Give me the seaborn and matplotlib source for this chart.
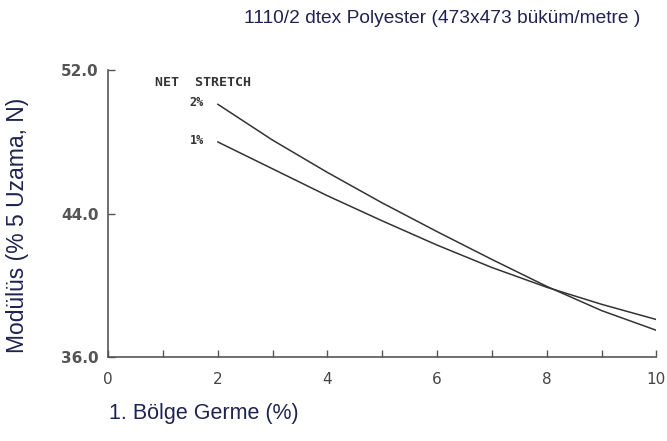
import seaborn as sns
import matplotlib.pyplot as plt
import pandas as pd

# Values
germe = [2, 3, 4, 5, 6, 7, 8, 9, 10]
modulus_2pct = [50.1, 48.1, 46.3, 44.6, 43.0, 41.45, 39.95, 38.6, 37.5]
modulus_1pct = [48.0, 46.5, 45.0, 43.6, 42.25, 41.0, 39.9, 38.95, 38.1]
series_labels = ['2%', '1%']
y_ticks = [36, 44, 52]
y_tick_labels = ['36.0', '44.0', '52.0']
x_ticks = list(range(0, 11))
x_tick_labels = ['0', '', '2', '', '4', '', '6', '', '8', '', '10']

df = pd.DataFrame({
    'germe': germe * 2,
    'modulus': modulus_2pct + modulus_1pct,
    'stretch': [series_labels[0]] * len(germe) + [series_labels[1]] * len(germe),
})

sns.set_style('white')
plt.rcParams['font.family'] = ['Liberation Sans', 'DejaVu Sans']

fig = plt.figure(figsize=(6.67, 4.41), dpi=100)
ax = fig.add_axes([0.162, 0.19, 0.822, 0.651])

sns.lineplot(data=df, x='germe', y='modulus', hue='stretch',
             palette={'2%': '#333333', '1%': '#333333'}, linewidth=1.1,
             legend=False, ax=ax)

ax.set_xlim(0, 10)
ax.set_ylim(36, 52)
ax.set_xticks(x_ticks)
ax.set_xticklabels(x_tick_labels, fontsize=11, color='#444444',
                   family='DejaVu Sans')
ax.set_yticks(y_ticks)
ax.set_yticklabels(y_tick_labels, fontsize=11, color='#555555',
                   family='DejaVu Sans', fontweight='bold')
ax.tick_params(axis='both', direction='in', length=5, width=1,
               color='#555555', bottom=True, left=True)
ax.tick_params(axis='x', pad=11)
ax.tick_params(axis='y', pad=7)

for side in ['top', 'right']:
    ax.spines[side].set_visible(False)
for side in ['left', 'bottom']:
    ax.spines[side].set_color('#555555')
    ax.spines[side].set_linewidth(1.2)

ax.set_xlabel('')
ax.set_ylabel('')

# Labels inside the plot (from original scanned figure)
ax.text(0.85, 51.3, 'NET  STRETCH', fontsize=9.5, family='DejaVu Sans Mono',
        fontweight='bold', color='#333333', va='center', ha='left')
for lab, yv in zip(series_labels, [modulus_2pct[0], modulus_1pct[0]]):
    ax.text(germe[0] - 0.25, yv + 0.1, lab, fontsize=8.5, family='DejaVu Sans Mono',
            fontweight='bold', color='#333333', va='center', ha='right')

navy = '#1f2350'
fig.text(0.663, 0.958, '1110/2 dtex Polyester (473x473 büküm/metre )',
         fontsize=13.8, color=navy, ha='center', va='center')
fig.text(0.026, 0.49, 'Modülüs (% 5 Uzama, N)', fontsize=16.5, color=navy,
         rotation=90, ha='center', va='center')
fig.text(0.163, 0.063, '1. Bölge Germe (%)', fontsize=15.5, color=navy,
         ha='left', va='center')

plt.savefig('out.png', dpi=100)
plt.close()
